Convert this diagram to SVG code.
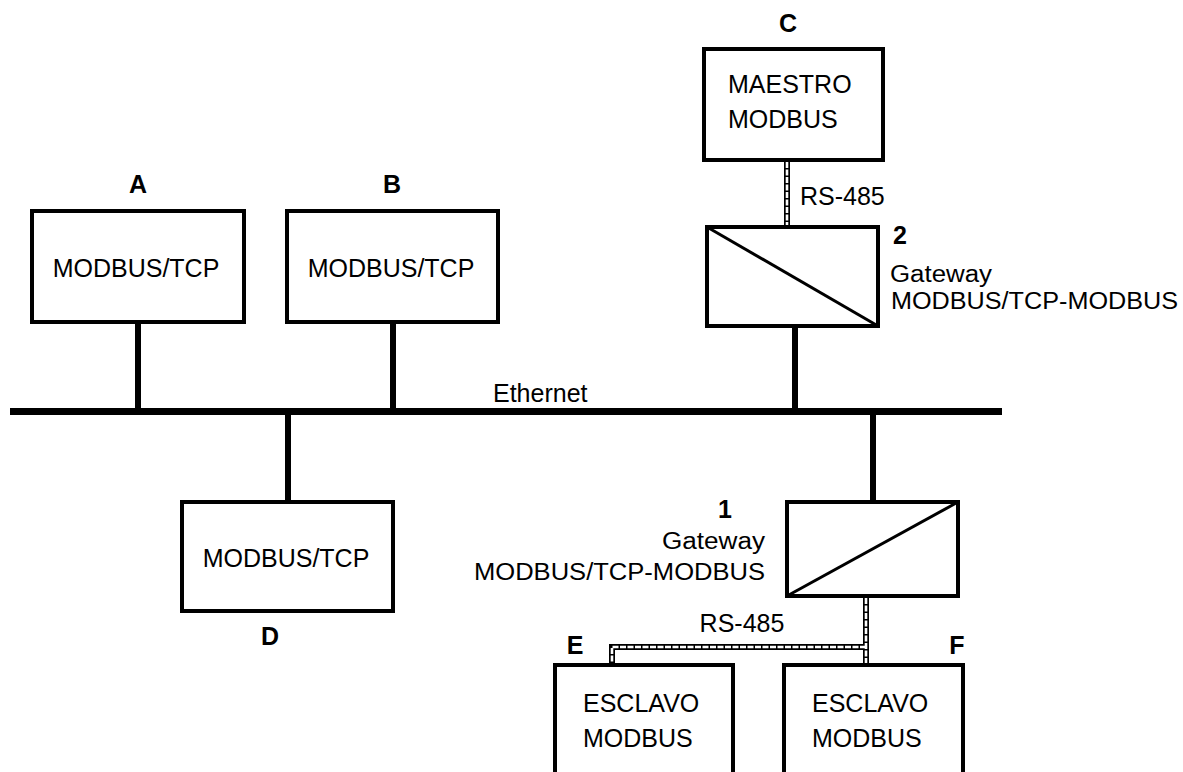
<svg xmlns="http://www.w3.org/2000/svg" width="1183" height="772" viewBox="0 0 1183 772">
<style>
  .box { fill: #fff; stroke: #000; stroke-width: 4; }
  .gw { fill: #fff; stroke: #000; stroke-width: 4; }
  .diag { stroke: #000; stroke-width: 3; fill: none; }
  .eth { stroke: #000; stroke-width: 6; fill: none; }
  .bus { stroke: #000; stroke-width: 7; fill: none; stroke-linecap: butt; }
  .rsOuter { stroke: #000; stroke-width: 6; fill: none; stroke-linejoin: miter; }
  .rsInner { stroke: #fff; stroke-width: 2.6; fill: none; stroke-dasharray: 6 1.5; stroke-linejoin: miter; }
  .t { font-family: "Liberation Sans", Arial, sans-serif; font-size: 25px; fill: #000; }
  .g { font-family: "Liberation Sans", Arial, sans-serif; font-size: 23px; fill: #000; }
  .lbl { font-family: "Liberation Sans", Arial, sans-serif; font-size: 25px; font-weight: bold; fill: #000; }
  .mid { text-anchor: middle; }
  .end { text-anchor: end; }
</style>
<rect width="1183" height="772" fill="#fff"/>

<g id="connectors">
  <line class="bus" x1="10" y1="411.5" x2="1002" y2="411.5"/>
  <line class="eth" x1="138" y1="324" x2="138" y2="411"/>
  <line class="eth" x1="393" y1="324" x2="393" y2="411"/>
  <line class="eth" x1="288" y1="411" x2="288" y2="502"/>
  <line class="eth" x1="795" y1="328" x2="795" y2="411"/>
  <line class="eth" x1="873" y1="411" x2="873" y2="502"/>
  <line class="rsOuter" x1="787" y1="162" x2="787" y2="226"/>
  <line class="rsInner" x1="787" y1="162" x2="787" y2="226"/>
  <path class="rsOuter" d="M866 598 V664 M866 647 H612 V664"/>
  <path class="rsInner" d="M866 598 V664 M866 647 H612 V664"/>
  <text class="t" x="493" y="402">Ethernet</text>
  <text class="t" x="800" y="205">RS-485</text>
  <text class="t mid" x="742" y="632">RS-485</text>
</g>

<g id="nodeA">
  <rect class="box" x="32" y="211" width="212" height="111"/>
  <text class="t mid" x="136" y="277">MODBUS/TCP</text>
  <text class="lbl mid" x="138" y="193">A</text>
</g>

<g id="nodeB">
  <rect class="box" x="287" y="211" width="211" height="111"/>
  <text class="t mid" x="391" y="277">MODBUS/TCP</text>
  <text class="lbl mid" x="392" y="193">B</text>
</g>

<g id="nodeC">
  <rect class="box" x="704" y="49" width="179" height="111"/>
  <text class="t" x="728" y="93">MAESTRO</text>
  <text class="t" x="728" y="128">MODBUS</text>
  <text class="lbl mid" x="788" y="32">C</text>
</g>

<g id="nodeD">
  <rect class="box" x="182" y="502" width="211" height="109"/>
  <text class="t mid" x="286" y="567">MODBUS/TCP</text>
  <text class="lbl mid" x="270" y="645">D</text>
</g>

<g id="gateway2">
  <rect class="gw" x="707" y="227" width="171" height="99"/>
  <line class="diag" x1="707" y1="227" x2="878" y2="326"/>
  <text class="lbl" x="893" y="244">2</text>
  <text class="g" x="890" y="282" textLength="102" lengthAdjust="spacingAndGlyphs">Gateway</text>
  <text class="g" x="891" y="309" textLength="287" lengthAdjust="spacingAndGlyphs">MODBUS/TCP-MODBUS</text>
</g>

<g id="gateway1">
  <rect class="gw" x="787" y="502" width="171" height="94"/>
  <line class="diag" x1="787" y1="596" x2="958" y2="502"/>
  <text class="lbl end" x="732" y="518">1</text>
  <text class="g end" x="765" y="549" textLength="103" lengthAdjust="spacingAndGlyphs">Gateway</text>
  <text class="g end" x="765" y="580" textLength="291" lengthAdjust="spacingAndGlyphs">MODBUS/TCP-MODBUS</text>
</g>

<g id="nodeE">
  <rect class="box" x="555" y="665" width="178" height="130"/>
  <text class="t" x="583" y="712">ESCLAVO</text>
  <text class="t" x="583" y="747">MODBUS</text>
  <text class="lbl mid" x="575" y="654">E</text>
</g>

<g id="nodeF">
  <rect class="box" x="784" y="665" width="179" height="130"/>
  <text class="t" x="812" y="712">ESCLAVO</text>
  <text class="t" x="812" y="747">MODBUS</text>
  <text class="lbl mid" x="957" y="654">F</text>
</g>
</svg>
